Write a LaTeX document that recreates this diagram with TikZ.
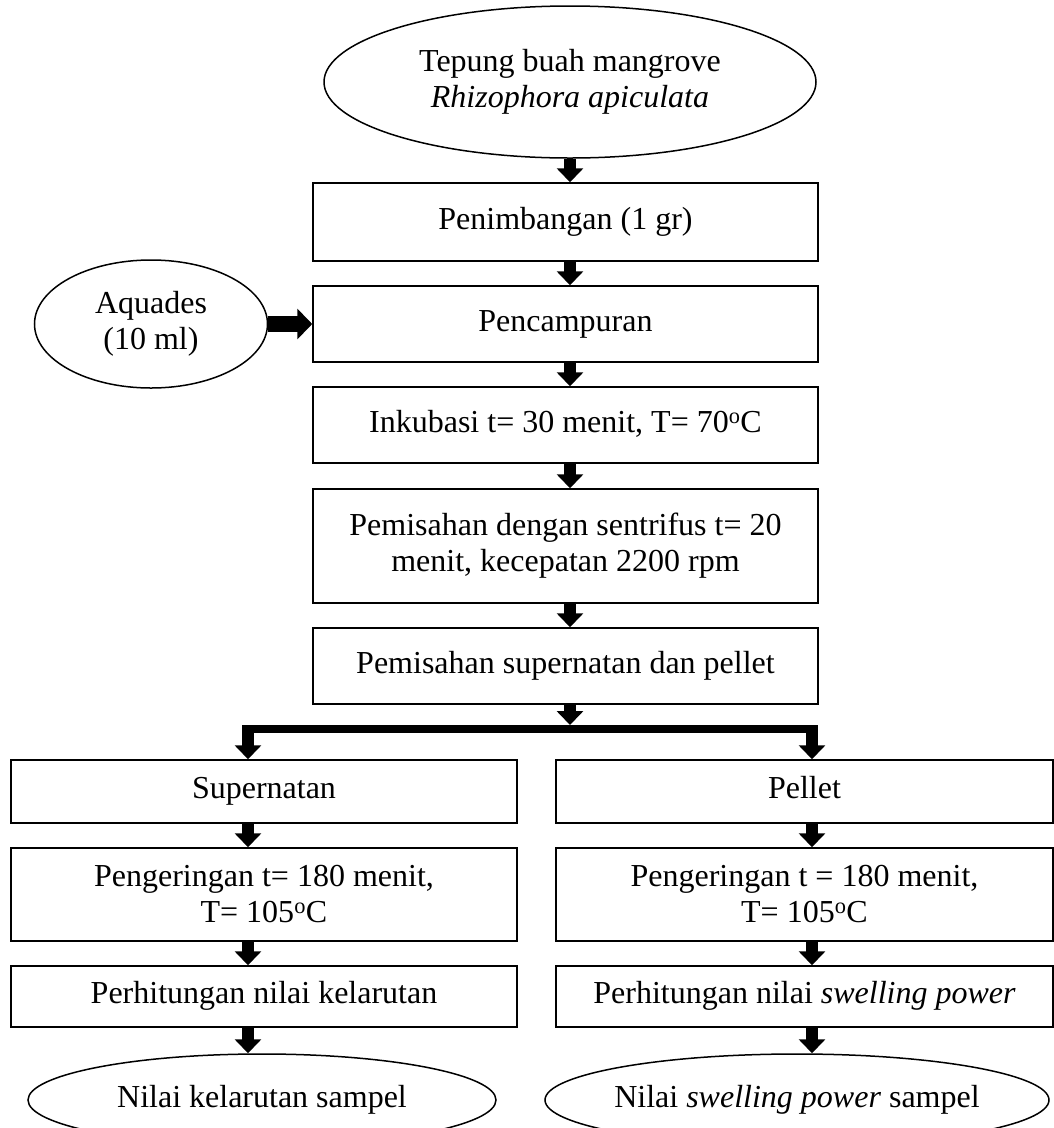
\documentclass[tikz,border=0pt]{standalone}
\usepackage{fontspec}
\setmainfont{Liberation Serif}
\usetikzlibrary{arrows.meta,shapes.geometric,calc}
\begin{document}
\begin{tikzpicture}[x=1pt,y=-1pt,
  every node/.style={font=\fontsize{32}{36}\selectfont},
  box/.style={draw, line width=1.5pt, rectangle, inner sep=0pt, align=center},
  oval/.style={draw, ellipse, line width=1.5pt, inner sep=0pt, align=center},
  fatarrow/.style={line width=12pt, -{Triangle[width=26pt,length=14pt]}},
  sidearrow/.style={line width=16pt, -{Triangle[width=30pt,length=15pt]}},
  barline/.style={line width=8pt}]
\useasboundingbox (0,0) rectangle (1054,1128);
% column guide coordinates
\coordinate (mx) at (570,0);
\coordinate (lx) at (248,0);
\coordinate (rx) at (812,0);
\coordinate (barL) at (242,729);
\coordinate (barR) at (818,729);
\coordinate (barT) at (570,725);
% main column
\node[oval, minimum width=492pt, minimum height=152pt] (top) at (570,82) {Tepung buah mangrove\\\textit{Rhizophora apiculata}};
\node[box, minimum width=505pt, minimum height=78pt] (b1) at (565.5,222) {\strut Penimbangan (1 gr)};
\node[box, minimum width=505pt, minimum height=76pt] (b2) at (565.5,324) {\strut Pencampuran};
\node[oval, minimum width=233pt, minimum height=128pt] (aq) at (151,324) {Aquades\\(10 ml)};
\node[box, minimum width=505pt, minimum height=76pt] (b3) at (565.5,425) {\strut Inkubasi t= 30 menit, T= 70\textsuperscript{o}C};
\node[box, minimum width=505pt, minimum height=114pt] (b4) at (565.5,546) {Pemisahan dengan sentrifus t= 20\\menit, kecepatan 2200 rpm};
\node[box, minimum width=505pt, minimum height=76pt] (b5) at (565.5,666) {\strut Pemisahan supernatan dan pellet};
% left column
\node[box, minimum width=506pt, minimum height=63pt] (l1) at (264,791.5) {\strut Supernatan};
\node[box, minimum width=506pt, minimum height=93pt] (l2) at (264,894.5) {Pengeringan t= 180 menit,\\T= 105\textsuperscript{o}C};
\node[box, minimum width=506pt, minimum height=61pt] (l3) at (264,996.5) {\strut Perhitungan nilai kelarutan};
\node[oval, minimum width=468pt, minimum height=92pt] (le) at (262,1100) {\makebox[0pt]{\strut Nilai kelarutan sampel}};
% right column
\node[box, minimum width=497pt, minimum height=63pt] (r1) at (804.5,791.5) {\strut Pellet};
\node[box, minimum width=497pt, minimum height=93pt] (r2) at (804.5,894.5) {Pengeringan t = 180 menit,\\T= 105\textsuperscript{o}C};
\node[box, minimum width=497pt, minimum height=61pt] (r3) at (804.5,996.5) {\strut Perhitungan nilai \textit{swelling power}};
\node[oval, minimum width=504pt, minimum height=92pt] (re) at (797,1100) {\makebox[0pt]{\strut Nilai \textit{swelling power} sampel}};
% connectors main column
\draw[fatarrow] (top.south -| mx) -- (b1.north -| mx);
\draw[fatarrow] (b1.south -| mx) -- (b2.north -| mx);
\draw[fatarrow] (b2.south -| mx) -- (b3.north -| mx);
\draw[fatarrow] (b3.south -| mx) -- (b4.north -| mx);
\draw[fatarrow] (b4.south -| mx) -- (b5.north -| mx);
\draw[fatarrow] (b5.south -| mx) -- (barT);
\draw[sidearrow] (aq.east) -- (b2.west);
% branch bar
\draw[barline] (barL) -- (barR);
\draw[fatarrow] (lx |- barL) -- (l1.north -| lx);
\draw[fatarrow] (rx |- barR) -- (r1.north -| rx);
% left column connectors
\draw[fatarrow] (l1.south -| lx) -- (l2.north -| lx);
\draw[fatarrow] (l2.south -| lx) -- (l3.north -| lx);
\draw[fatarrow] (l3.south -| lx) -- (le.north -| lx);
% right column connectors
\draw[fatarrow] (r1.south -| rx) -- (r2.north -| rx);
\draw[fatarrow] (r2.south -| rx) -- (r3.north -| rx);
\draw[fatarrow] (r3.south -| rx) -- (re.north -| rx);
\end{tikzpicture}
\end{document}
